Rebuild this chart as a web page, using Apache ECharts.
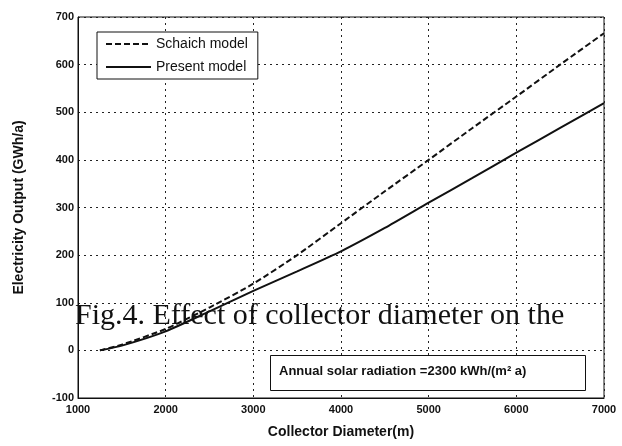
<!DOCTYPE html>
<html>
<head>
<meta charset="utf-8">
<script src="https://cdn.jsdelivr.net/npm/echarts@6/dist/echarts.min.js"></script>
<style>html,body{margin:0;padding:0;background:#fff}#c{width:622px;height:446px}</style>
</head>
<body>
<div id="c"></div>
<script>
const diameters = [1250, 1500, 2000, 2500, 3000, 3500, 4000, 4500, 5000, 5500, 6000, 6500, 7000];
const schaichModel = [0, 12, 45, 90, 140, 200, 267, 334, 400, 467, 533, 600, 666];
const presentModel = [0, 10, 40, 82, 125, 166, 208, 257, 310, 362, 415, 467, 519];
const xTicks = [1000, 2000, 3000, 4000, 5000, 6000, 7000];
const yTicks = [-100, 0, 100, 200, 300, 400, 500, 600, 700];
const seriesNames = ['Schaich model', 'Present model'];
const annotation = 'Annual solar radiation =2300 kWh/(m\u00B2 a)';
const overlayCaption = 'Fig.4. Effect of collector diameter on the';

const chart = echarts.init(document.getElementById('c'), null, {renderer: 'canvas'});
const pairs = (xs, ys) => xs.map((x, i) => [x, ys[i]]);
const font = 'Liberation Sans, Arial, sans-serif';
chart.setOption({
  animation: false,
  backgroundColor: '#fff',
  grid: {left: 78, right: 18, top: 17, bottom: 48, show: true, borderColor: '#111', borderWidth: 1},
  xAxis: {
    type: 'value', min: xTicks[0], max: xTicks[xTicks.length - 1], interval: 1000,
    name: 'Collector Diameter(m)', nameLocation: 'middle', nameGap: 27,
    nameTextStyle: {fontFamily: font, fontWeight: 'bold', fontSize: 14, color: '#111'},
    axisLine: {onZero: false, lineStyle: {color: '#111'}},
    axisTick: {show: false},
    axisLabel: {fontFamily: font, fontSize: 11, fontWeight: 'bold', color: '#111', margin: 6,
                formatter: v => String(v)},
    splitLine: {show: true, lineStyle: {type: [2, 4], color: '#222', width: 1}}
  },
  yAxis: {
    type: 'value', min: yTicks[0], max: yTicks[yTicks.length - 1], interval: 100,
    name: 'Electricity Output (GWh/a)', nameLocation: 'middle', nameGap: 52,
    nameTextStyle: {fontFamily: font, fontWeight: 'bold', fontSize: 14, color: '#111'},
    axisLine: {onZero: false, lineStyle: {color: '#111'}},
    axisTick: {show: false},
    axisLabel: {fontFamily: font, fontSize: 11, fontWeight: 'bold', color: '#111', margin: 4,
                formatter: v => String(v)},
    splitLine: {show: true, lineStyle: {type: [2, 4], color: '#222', width: 1}}
  },
  legend: {
    orient: 'vertical', left: 97, top: 32, itemWidth: 45, itemHeight: 10, itemGap: 9,
    data: seriesNames, backgroundColor: '#fff', borderColor: '#111', borderWidth: 1,
    padding: [5, 10, 5, 8], itemStyle: {opacity: 0},
    textStyle: {fontFamily: font, fontSize: 14, color: '#111'}
  },
  series: [
    {name: seriesNames[0], type: 'line', data: pairs(diameters, schaichModel), symbol: 'none', smooth: 0.2,
     lineStyle: {color: '#111', width: 2, type: [6, 3]}, itemStyle: {color: '#111'}},
    {name: seriesNames[1], type: 'line', data: pairs(diameters, presentModel), symbol: 'none', smooth: 0.2,
     lineStyle: {color: '#111', width: 2}, itemStyle: {color: '#111'}}
  ],
  graphic: [
    {type: 'rect', left: 270, top: 355, shape: {width: 315, height: 35},
     style: {fill: '#fff', stroke: '#111', lineWidth: 1}, z: 10},
    {type: 'text', left: 279, top: 365, z: 11,
     style: {text: annotation, font: 'bold 13px ' + font, fill: '#111'}},
    {type: 'text', left: 75, top: 301, z: 12,
     style: {text: overlayCaption, font: '30px "Liberation Serif", "Times New Roman", serif', fill: '#111'}}
  ]
});
</script>
</body>
</html>
